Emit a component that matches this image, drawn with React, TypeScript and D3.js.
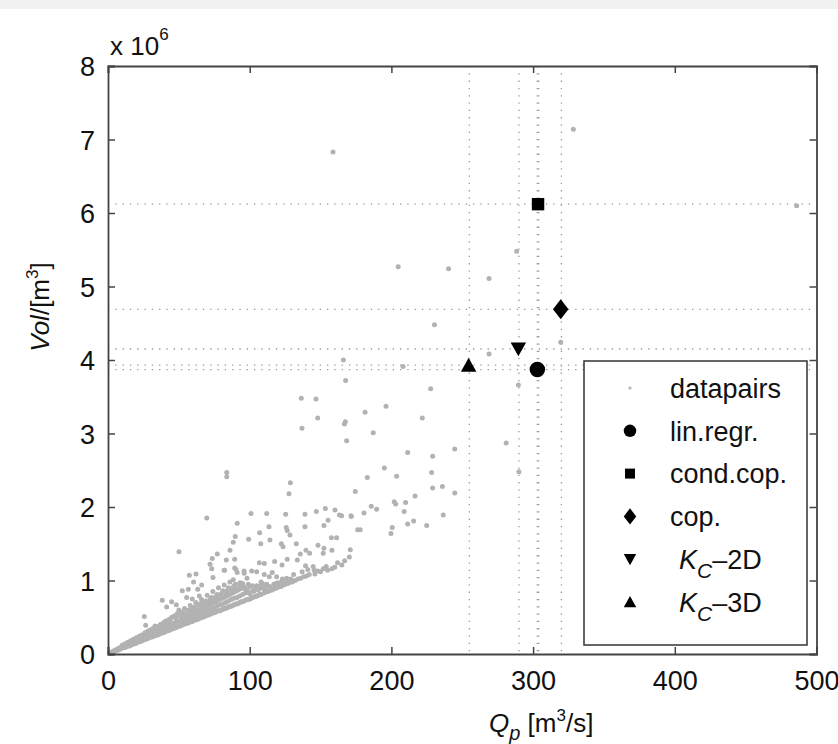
import React, { useEffect, useRef } from 'react'
import * as d3 from 'd3'

// x: peak discharge Q_p [m3/s], y: volume [10^6 m3]
const xTicks = [0, 100, 200, 300, 400, 500]
const yTicks = [0, 1, 2, 3, 4, 5, 6, 7, 8]

const sparsePairs: [number, number][] = [
  [158.8, 6.83], [328.4, 7.14], [486, 6.1], [288.4, 5.48], [240.3, 5.24], [204.8, 5.27], [268.9, 5.11],
  [230.4, 4.48], [268.9, 4.08], [319.5, 4.24], [166.1, 4.0], [208.2, 3.91], [167.7, 3.72], [227.7, 3.61],
  [289.6, 3.66], [136.4, 3.48], [146.8, 3.47], [196.2, 3.37], [181.4, 3.29], [148, 3.21], [221.8, 3.21],
  [166.8, 3.13], [167.5, 3.16], [136.9, 3.07], [187.2, 3.01], [168.4, 2.9], [244.7, 2.79], [211.5, 2.74],
  [229.1, 2.69], [281, 2.87], [290, 2.48], [195, 2.53], [228.4, 2.47], [83.8, 2.41], [83.8, 2.47],
  [183, 2.4], [203.7, 2.42], [128.7, 2.33], [229.1, 2.26], [236, 2.28], [127.7, 2.18], [174.5, 2.21],
  [244.7, 2.19], [216.7, 2.15], [202, 2.07], [203, 2.04], [210, 2.06], [185.8, 2.01], [189.6, 1.97],
  [209, 1.94], [180.7, 1.92], [164.9, 1.88], [171.5, 1.88], [236.6, 1.89], [215.7, 1.81], [211.5, 1.77],
  [224.9, 1.75], [178, 1.69], [200.6, 1.72], [199.7, 1.64], [69.7, 1.85], [100.9, 1.91], [112, 1.91],
  [125.4, 1.9], [139, 1.9], [147, 1.94], [153.4, 1.98], [160.2, 1.96], [163.3, 1.89], [171.7, 1.87],
  [91.2, 1.78], [155.3, 1.82], [113.6, 1.73], [125.8, 1.72], [139, 1.73], [152.4, 1.75], [107, 1.65],
  [126.5, 1.68], [89.8, 1.6], [99.3, 1.56], [114.3, 1.55], [128.4, 1.62], [157.6, 1.58], [161.3, 1.58],
  [176.2, 1.69], [88.4, 1.52], [107.8, 1.5], [122.3, 1.5], [132.9, 1.5], [148.2, 1.48], [152.4, 1.44],
  [123.5, 1.46], [86.1, 1.41], [139.7, 1.41], [142.3, 1.37], [151.9, 1.37], [158, 1.41], [171, 1.42],
  [170.3, 1.32], [73.6, 1.3], [77.1, 1.36], [83.5, 1.28], [89.4, 1.29], [135.7, 1.36], [133.6, 1.28],
  [126.5, 1.29], [106.8, 1.24], [110.3, 1.23], [117.6, 1.26], [122.8, 1.21], [139.4, 1.2], [144.8, 1.19],
  [145.5, 1.14], [151.9, 1.16], [72, 1.22], [73.2, 1.16], [82.3, 1.14], [89.4, 1.17], [91.2, 1.11],
  [96.1, 1.1], [101.4, 1.13], [104.9, 1.12], [110.3, 1.08], [113.8, 1.05], [115.9, 1.11], [119, 1.05],
  [123, 1.02], [126, 1.03], [128.9, 0.98], [108, 0.98], [112, 0.95], [118.6, 0.96], [122.5, 0.98],
  [98.1, 1.03], [88.4, 1.01], [93.2, 0.97], [101.9, 0.93], [50.1, 1.39], [57.4, 1.07], [62.1, 1.09],
  [60.4, 0.98], [66.1, 0.94], [52.4, 0.86], [56.7, 0.88], [63.3, 0.88], [55.5, 0.77], [59.5, 0.75],
  [64.4, 0.79], [38.3, 0.73], [44.9, 0.71], [41.4, 0.64], [48.2, 0.67], [25.6, 0.51], [26.6, 0.39],
  [33.2, 0.38], [74.1, 1.04], [96, 1.13], [90.3, 1.15], [81.9, 1.14], [131, 1.08], [137, 1.12],
  [141, 1.15], [148, 1.13], [154, 1.19], [158, 1.16], [162, 1.24], [167, 1.27],
]

// dense wedge near the origin
const densePairs: [number, number][] = [
  [1, 0.01], [2, 0.02], [2, 0.01], [3, 0.03], [3, 0.02], [4, 0.04], [4, 0.03], [5, 0.04], [5, 0.05],
  [6, 0.05], [6, 0.06], [7, 0.05], [7, 0.07], [8, 0.06], [8, 0.08], [9, 0.07], [9, 0.09], [10, 0.08],
  [10, 0.1], [10, 0.12], [11, 0.09], [11, 0.11], [12, 0.09], [12, 0.12], [12, 0.14], [13, 0.1], [13, 0.12],
  [14, 0.11], [14, 0.13], [14, 0.16], [15, 0.11], [15, 0.14], [16, 0.12], [16, 0.15], [16, 0.18],
  [17, 0.13], [17, 0.16], [18, 0.14], [18, 0.17], [18, 0.2], [19, 0.14], [19, 0.18], [20, 0.15],
  [20, 0.18], [20, 0.22], [21, 0.16], [21, 0.19], [22, 0.17], [22, 0.21], [22, 0.24], [23, 0.17],
  [23, 0.2], [24, 0.18], [24, 0.22], [24, 0.26], [25, 0.19], [25, 0.23], [26, 0.2], [26, 0.24],
  [26, 0.29], [27, 0.2], [27, 0.25], [28, 0.21], [28, 0.26], [28, 0.31], [29, 0.22], [29, 0.27],
  [30, 0.23], [30, 0.28], [30, 0.33], [31, 0.23], [31, 0.29], [32, 0.24], [32, 0.27], [32, 0.35],
  [33, 0.25], [33, 0.3], [34, 0.26], [34, 0.32], [35, 0.26], [35, 0.3], [35, 0.37], [36, 0.27],
  [36, 0.33], [37, 0.28], [37, 0.31], [37, 0.4], [38, 0.29], [38, 0.35], [39, 0.29], [39, 0.33],
  [39, 0.42], [40, 0.3], [40, 0.36], [41, 0.31], [41, 0.34], [41, 0.45], [42, 0.32], [42, 0.38],
  [43, 0.32], [43, 0.36], [43, 0.47], [44, 0.33], [44, 0.4], [45, 0.34], [45, 0.37], [45, 0.5],
  [46, 0.35], [46, 0.42], [47, 0.35], [47, 0.39], [47, 0.52], [48, 0.36], [48, 0.44], [49, 0.37],
  [49, 0.41], [49, 0.55], [50, 0.38], [50, 0.45], [50, 0.6], [51, 0.38], [51, 0.43], [52, 0.39],
  [52, 0.47], [52, 0.57], [53, 0.4], [53, 0.45], [54, 0.41], [54, 0.49], [54, 0.62], [55, 0.41],
  [55, 0.46], [56, 0.42], [56, 0.51], [56, 0.58], [57, 0.43], [57, 0.48], [58, 0.44], [58, 0.53],
  [58, 0.66], [59, 0.44], [59, 0.5], [60, 0.45], [60, 0.55], [60, 0.62], [61, 0.46], [61, 0.51],
  [62, 0.47], [62, 0.57], [62, 0.7], [63, 0.47], [63, 0.53], [64, 0.48], [64, 0.59], [64, 0.66],
  [65, 0.49], [65, 0.55], [66, 0.5], [66, 0.61], [66, 0.74], [67, 0.5], [67, 0.57], [68, 0.51],
  [68, 0.63], [68, 0.7], [69, 0.52], [69, 0.58], [70, 0.53], [70, 0.65], [70, 0.8], [71, 0.53],
  [71, 0.6], [72, 0.54], [72, 0.67], [72, 0.74], [73, 0.55], [73, 0.62], [74, 0.56], [74, 0.69],
  [74, 0.85], [75, 0.56], [75, 0.63], [76, 0.57], [76, 0.71], [76, 0.78], [77, 0.58], [77, 0.65],
  [78, 0.59], [78, 0.73], [78, 0.9], [79, 0.59], [79, 0.67], [80, 0.6], [80, 0.75], [80, 0.82],
  [81, 0.61], [81, 0.68], [82, 0.62], [82, 0.77], [82, 0.94], [83, 0.62], [83, 0.7], [84, 0.63],
  [84, 0.79], [84, 0.86], [85, 0.64], [85, 0.72], [86, 0.65], [86, 0.81], [86, 0.98], [87, 0.65],
  [87, 0.74], [88, 0.66], [88, 0.83], [88, 0.9], [89, 0.67], [89, 0.76], [90, 0.68], [90, 0.85],
  [90, 0.95], [91, 0.68], [91, 0.77], [92, 0.69], [92, 0.87], [93, 0.7], [93, 0.79], [94, 0.71],
  [94, 0.89], [95, 0.71], [95, 0.81], [96, 0.72], [96, 0.91], [97, 0.73], [97, 0.83], [98, 0.74],
  [98, 0.88], [99, 0.74], [99, 0.84], [100, 0.75], [100, 0.92], [100, 0.82], [101, 0.76], [102, 0.77],
  [102, 0.86], [103, 0.78], [104, 0.78], [104, 0.9], [105, 0.79], [106, 0.8], [106, 0.87], [107, 0.81],
  [108, 0.81], [108, 0.93], [110, 0.83], [110, 0.89], [111, 0.84], [112, 0.85], [113, 0.85], [114, 0.86],
  [114, 0.92], [116, 0.87], [117, 0.89], [118, 0.89], [119, 0.9], [120, 0.91], [121, 0.92], [122, 0.92],
  [124, 0.94], [125, 0.95], [127, 0.96], [128, 1.0], [130, 0.98], [132, 1.0], [134, 1.02], [136, 1.03],
  [138, 1.05], [140, 1.06], [142, 1.08], [146, 1.09], [150, 1.12], [155, 1.14], [160, 1.18], [165, 1.21],
]

// in-between points of the wedge, less regular
const wedgeFill: [number, number][] = [
  [18, 0.19], [23, 0.24], [27, 0.28], [31, 0.32], [34, 0.36], [38, 0.39], [40, 0.44], [42, 0.41],
  [44, 0.47], [46, 0.39], [48, 0.49], [51, 0.52], [53, 0.55], [55, 0.53], [57, 0.6], [59, 0.57],
  [61, 0.64], [63, 0.6], [65, 0.68], [67, 0.65], [69, 0.72], [71, 0.7], [73, 0.77], [75, 0.72],
  [77, 0.81], [79, 0.78], [81, 0.86], [83, 0.83], [85, 0.9], [87, 0.87], [89, 0.93], [91, 0.88],
  [93, 0.92], [95, 0.96], [97, 0.88], [99, 0.95], [103, 0.85], [105, 0.93], [107, 0.89], [109, 0.96],
  [111, 0.9], [115, 0.88], [117, 0.95], [120, 0.97], [123, 0.96], [126, 1.0], [129, 1.02],
]

// design estimates
const estimateNames = ['lin.regr.', 'cond.cop.', 'cop.', 'K_C-2D', 'K_C-3D']
const estimateQ = [303, 303.5, 319.5, 289.6, 254.5]
const estimateVol = [3.87, 6.12, 4.69, 4.15, 3.93]
const estimateShapes = ['circle', 'square', 'diamond', 'triDown', 'triUp']

const W = 838
const H = 744
const font = '"Liberation Sans", Arial, Helvetica, sans-serif'

function shapePath(shape: string, s: number) {
  const h = s / 2
  switch (shape) {
    case 'circle':
      return d3.symbol(d3.symbolCircle, Math.PI * h * h)() as string
    case 'square':
      return `M${-h * 0.8},${-h * 0.8}H${h * 0.8}V${h * 0.8}H${-h * 0.8}Z`
    case 'diamond':
      return `M0,${-h * 1.3}L${h},0L0,${h * 1.3}L${-h},0Z`
    case 'triUp':
      return `M0,${-h * 0.95}L${h},${h * 0.85}L${-h},${h * 0.85}Z`
    default:
      return `M0,${h * 0.95}L${h},${-h * 0.85}L${-h},${-h * 0.85}Z`
  }
}

export default function App() {
  const ref = useRef<SVGSVGElement>(null)

  useEffect(() => {
    const svg = d3.select(ref.current)
    svg.selectAll('*').remove()

    const left = 108, right = 816.5, top = 66, bottom = 654
    const x = d3.scaleLinear().domain([0, 500]).range([left, right])
    const y = d3.scaleLinear().domain([0, 8]).range([bottom, top])

    // top strip of the page screenshot
    svg.append('rect').attr('x', 0).attr('y', 0).attr('width', W).attr('height', 9).attr('fill', '#f1f1f1')

    // dotted guide lines through each estimate
    const guides = svg.append('g').attr('stroke', '#999').attr('stroke-width', 1.3).attr('stroke-dasharray', '1.3,6')
    Array.from(new Set(estimateQ.map(q => Math.round(q)))).forEach(q => {
      guides.append('line').attr('x1', x(q)).attr('x2', x(q)).attr('y1', top).attr('y2', bottom)
    })
    estimateVol.forEach(v => {
      guides.append('line').attr('x1', left).attr('x2', right).attr('y1', y(v)).attr('y2', y(v))
    })

    // data pairs
    svg.append('g').attr('fill', '#b2b2b2')
      .selectAll('circle')
      .data([...densePairs, ...wedgeFill, ...sparsePairs])
      .join('circle')
      .attr('cx', d => x(d[0]))
      .attr('cy', d => y(d[1]))
      .attr('r', 2.5)

    // estimates
    svg.append('g').selectAll('path')
      .data(estimateNames)
      .join('path')
      .attr('transform', (d, i) => `translate(${x(estimateQ[i])},${y(estimateVol[i])})`)
      .attr('d', (d, i) => shapePath(estimateShapes[i], 15.5))
      .attr('fill', '#000')

    // axes box with inward ticks (matlab style)
    const axisColor = '#444'
    const xAxis = d3.axisBottom(x).tickValues(xTicks).tickSize(-7).tickPadding(17).tickFormat(d3.format('d'))
    const gx = svg.append('g').attr('transform', `translate(0,${bottom})`).call(xAxis)
    const xTop = d3.axisTop(x).tickValues(xTicks).tickSize(-7).tickFormat(() => '')
    const gxt = svg.append('g').attr('transform', `translate(0,${top})`).call(xTop)
    const yAxis = d3.axisLeft(y).tickValues(yTicks).tickSize(-7).tickPadding(13).tickFormat(d3.format('d'))
    const gy = svg.append('g').attr('transform', `translate(${left},0)`).call(yAxis)
    const yRight = d3.axisRight(y).tickValues(yTicks).tickSize(-7).tickFormat(() => '')
    const gyr = svg.append('g').attr('transform', `translate(${right},0)`).call(yRight)
    ;[gx, gxt, gy, gyr].forEach(g => {
      g.selectAll('.domain').attr('stroke', axisColor).attr('stroke-width', 1.8)
      g.selectAll('.tick line').attr('stroke', axisColor).attr('stroke-width', 1.5)
      g.selectAll('text').attr('fill', '#111').attr('font-size', 27).attr('font-family', font)
    })
    gy.selectAll('text').attr('dy', '0.36em')

    // exponent label
    const ex = svg.append('text').attr('x', 110).attr('y', 55).attr('font-family', font).attr('font-size', 26).attr('fill', '#111')
    ex.append('tspan').text('x 10')
    ex.append('tspan').attr('font-size', 17).attr('dy', -15).text('6')

    // y label
    const yl = svg.append('text')
      .attr('transform', 'translate(49,307) rotate(-90)')
      .attr('text-anchor', 'middle')
      .attr('font-family', font).attr('font-size', 26).attr('fill', '#111')
    yl.append('tspan').attr('font-style', 'italic').text('Vol')
    yl.append('tspan').text('/[m')
    yl.append('tspan').attr('font-size', 17).attr('dy', -11).text('3')
    yl.append('tspan').attr('dy', 11).text(']')

    // x label
    const xl = svg.append('text').attr('x', 489).attr('y', 732)
      .attr('font-family', font).attr('font-size', 26).attr('fill', '#111')
    xl.append('tspan').attr('font-style', 'italic').text('Q')
    xl.append('tspan').attr('font-style', 'italic').attr('font-size', 20).attr('dy', 8).text('p')
    xl.append('tspan').attr('dy', -8).text(' [m')
    xl.append('tspan').attr('font-size', 17).attr('dy', -11).text('3')
    xl.append('tspan').attr('dy', 11).text('/s]')

    // legend
    const lg = svg.append('g')
    lg.append('rect').attr('x', 584).attr('y', 361).attr('width', 223).attr('height', 284)
      .attr('fill', '#fff').attr('stroke', '#333').attr('stroke-width', 1.5)
    const rowY = (i: number) => 388 + i * 42.8
    lg.append('circle').attr('cx', 630).attr('cy', rowY(0)).attr('r', 1.6).attr('fill', '#b2b2b2')
    lg.append('text').attr('x', 670).attr('y', rowY(0)).attr('dy', '0.36em')
      .attr('font-family', font).attr('font-size', 27).attr('fill', '#111').text('datapairs')
    estimateNames.forEach((name, i) => {
      const yy = rowY(i + 1)
      lg.append('path').attr('transform', `translate(630,${yy})`)
        .attr('d', shapePath(estimateShapes[i], 12.5)).attr('fill', '#000')
      const t = lg.append('text').attr('y', yy).attr('dy', '0.36em')
        .attr('font-family', font).attr('font-size', 27).attr('fill', '#111')
      if (name.startsWith('K_C')) {
        t.attr('x', 679)
        t.append('tspan').attr('font-style', 'italic').text('K')
        t.append('tspan').attr('font-style', 'italic').attr('font-size', 21).attr('dy', 9).text('C')
        t.append('tspan').attr('dy', -9).text('\u2013' + name.split('-')[1])
      } else {
        t.attr('x', 670).text(name)
      }
    })
  }, [])

  return (
    <svg ref={ref} width={W} height={H} style={{ position: 'absolute', left: 0, top: 0, background: '#fff' }} />
  )
}
